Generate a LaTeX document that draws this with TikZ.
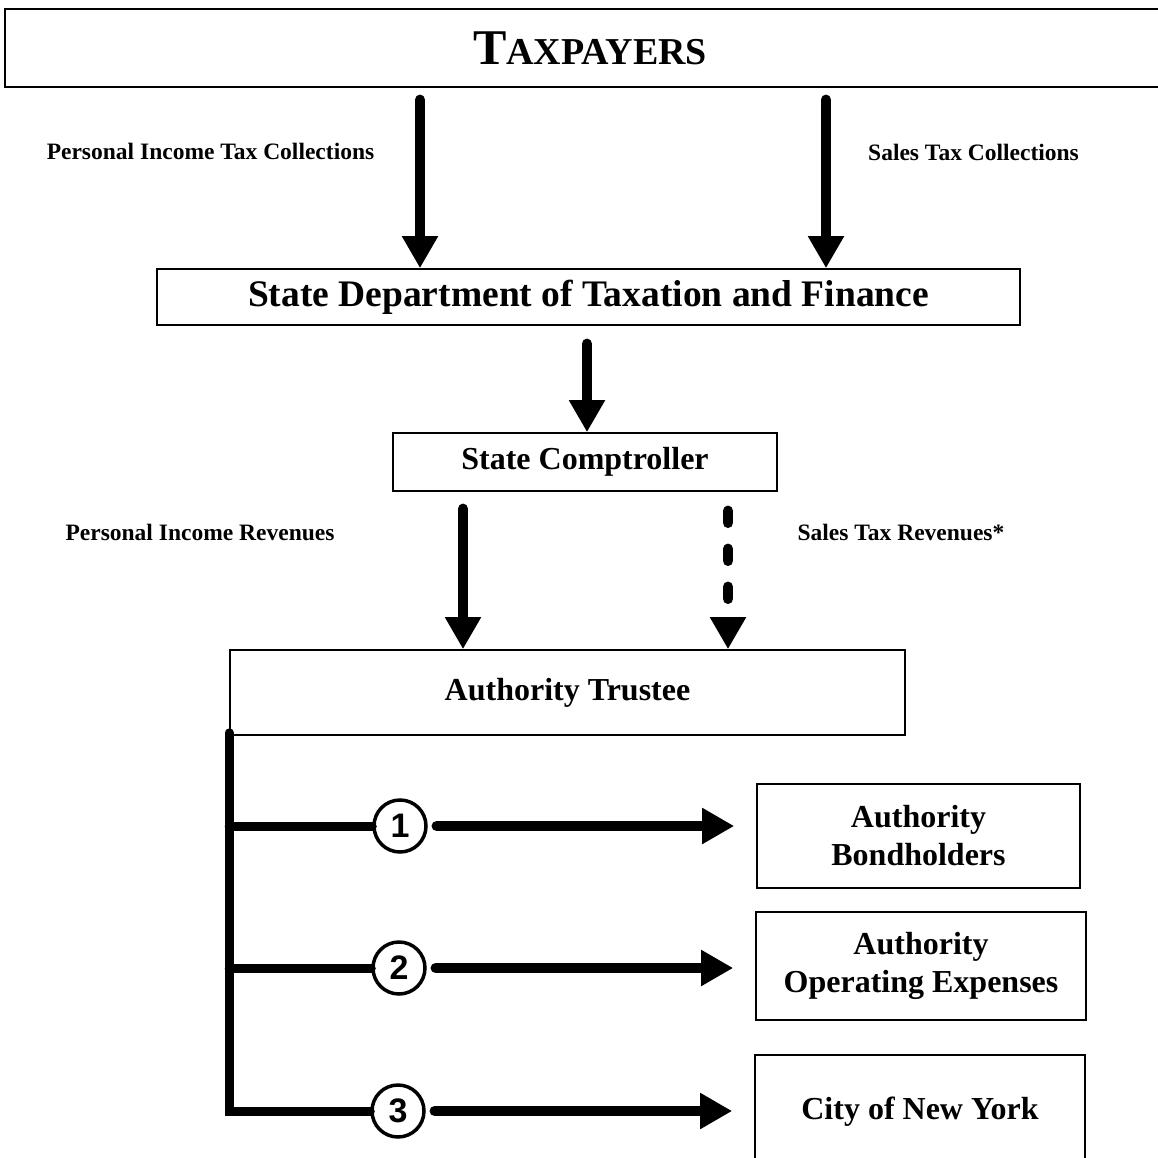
\documentclass[tikz,border=0pt]{standalone}
\usepackage{fontspec}
\setmainfont{Liberation Serif}
\newfontfamily\numfont{Liberation Sans}
\usetikzlibrary{arrows.meta}

\tikzstyle{box} = [draw, line width=1.6pt, inner sep=0pt, align=center, font=\bfseries\fontsize{32}{38}\selectfont]
\tikzstyle{note} = [inner sep=0pt, font=\bfseries\fontsize{23.5}{26}\selectfont]
\tikzstyle{flow} = [line width=10.5pt, line cap=round, -{Triangle[length=32pt,width=34pt]}]
\tikzstyle{trunk} = [line width=9pt, line cap=round]
\tikzstyle{num} = [circle, draw, line width=3.5pt, minimum size=52pt, inner sep=0pt, font=\numfont\bfseries\fontsize{34}{34}\selectfont]

\begin{document}
\begin{tikzpicture}[x=1pt,y=-1pt]
      \useasboundingbox (0,0) rectangle (1158,1158);
      % boxes
      \node[box, minimum width=1170pt, minimum height=78pt] (tax) at (590,48)
        {\fontsize{50}{50}\selectfont T\fontsize{38}{38}\selectfont AXPAYERS};
      \node[box, minimum width=863pt, minimum height=56pt, font=\bfseries\fontsize{37.5}{40}\selectfont] (dept) at (588.5,297)
        {State Department of Taxation and Finance};
      \node[box, minimum width=384pt, minimum height=58pt] (comp) at (585,462) {State Comptroller};
      \node[box, minimum width=675pt, minimum height=85pt] (trustee) at (567.5,692.5) {Authority Trustee};
      \node[box, minimum width=323pt, minimum height=104pt] (bond) at (918.5,836) {Authority\\Bondholders};
      \node[box, minimum width=330pt, minimum height=108pt] (opex) at (921,966) {Authority\\Operating Expenses};
      \node[box, minimum width=330pt, minimum height=114pt] (city) at (920,1112) {City of New York};
      % labels
      \node[note] (pitc) at (210.5,151) {Personal Income Tax Collections};
      \node[note] (stc) at (973.5,152) {Sales Tax Collections};
      \node[note] (pir) at (200,532) {Personal Income Revenues};
      \node[note] (str) at (901,532) {Sales Tax Revenues*};
      % numbered circles
      \node[num] (c1) at (400,826) {1};
      \node[num] (c2) at (399,968) {2};
      \node[num] (c3) at (398,1111) {3};
      % flows down
      \coordinate (p1) at (420,0);
      \coordinate (p2) at (826,0);
      \coordinate (p3) at (587,0);
      \coordinate (p4) at (463,0);
      \coordinate (p5) at (728,0);
      \draw[flow, shorten <=12pt] (tax.south -| p1) -- (dept.north -| p1);
      \draw[flow, shorten <=12pt] (tax.south -| p2) -- (dept.north -| p2);
      \draw[flow, shorten <=18pt] (dept.south -| p3) -- (comp.north -| p3);
      \draw[flow, shorten <=17pt] (comp.south -| p4) -- (trustee.north -| p4);
      \draw[flow, shorten <=19pt, dash pattern=on 12pt off 26pt] (comp.south -| p5) -- (trustee.north -| p5);
      % payments
      \draw[trunk] ([yshift=3pt]trustee.south west) |- (c3.west);
      \draw[trunk] (trustee.south west |- c1) -- (c1.west);
      \draw[trunk] (trustee.south west |- c2) -- (c2.west);
      \draw[flow, shorten <=9pt, shorten >=22pt] (c1.east) -- (bond.west |- c1);
      \draw[flow, shorten <=9pt, shorten >=22pt] (c2.east) -- (opex.west |- c2);
      \draw[flow, shorten <=9pt, shorten >=22pt] (c3.east) -- (city.west |- c3);
\end{tikzpicture}
\end{document}
